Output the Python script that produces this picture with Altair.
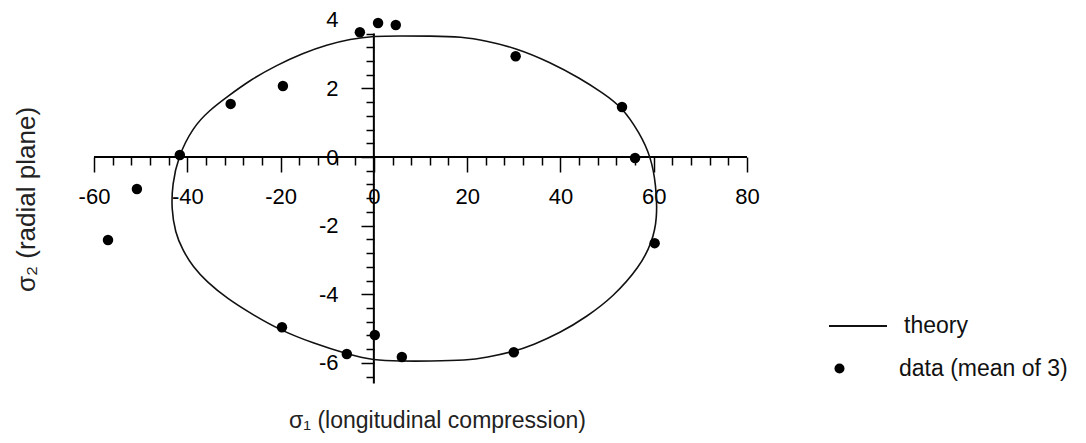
import altair as alt
import pandas as pd

# ---- theory curve, traced around the closed curve ----
THEORY_X = [-42.0, -38.8, -35.2, -31.5, -26.6, -20.8, -15.2, -10.1, -5.1, 0.0,
            5.6, 12.0, 18.9, 24.2, 30.7, 37.7, 44.2, 49.1, 53.2, 57.0,
            59.4, 60.5, 60.8, 59.6, 57.0, 51.3, 45.6, 39.9, 34.1, 29.8,
            24.2, 19.9, 12.0, 5.6, 0.0, -5.8, -13.0, -20.2, -25.9, -31.5,
            -35.8, -38.8, -41.0, -42.6, -43.4, -43.2]
THEORY_Y = [0.0, 0.87, 1.37, 1.75, 2.24, 2.68, 3.03, 3.27, 3.44, 3.53,
            3.53, 3.53, 3.51, 3.38, 3.17, 2.77, 2.3, 1.87, 1.46, 0.7,
            0.0, -0.8, -1.8, -2.5, -3.2, -4.08, -4.66, -5.13, -5.48, -5.68,
            -5.84, -5.93, -5.95, -5.95, -5.93, -5.74, -5.43, -5.04, -4.6, -4.12,
            -3.64, -3.2, -2.71, -2.2, -1.5, -0.8]

# ---- measured data (mean of 3) ----
DATA_X = [-3.0, 0.9, 4.7, -19.5, -30.7, -41.6, -50.8, 30.4, 53.2, 56.0,
          -57.0, -19.7, 0.2, -5.8, 6.0, 60.2, 30.0]
DATA_Y = [3.64, 3.91, 3.85, 2.07, 1.55, 0.06, -0.93, 2.94, 1.46, -0.03,
          -2.42, -4.96, -5.19, -5.74, -5.83, -2.51, -5.69]

# ---- axes ----
X_TICKS = list(range(-60, 81, 4))
Y_TICKS = [round(-6.4 + 0.4 * i, 1) for i in range(26)] + [4.0]
X_AXIS_SPAN = [-60, 80]
Y_AXIS_SPAN = [-6.6, 3.6]
LINE_LABEL = "theory"
POINT_LABEL = "data (mean of 3)"

FONT = "Liberation Sans"

theory = pd.DataFrame({"x": THEORY_X, "y": THEORY_Y,
                       "i": list(range(len(THEORY_X))),
                       "curve": [LINE_LABEL] * len(THEORY_X)})
data = pd.DataFrame({"x": DATA_X, "y": DATA_Y, "series": [POINT_LABEL] * len(DATA_X)})
xline = pd.DataFrame({"x": [X_AXIS_SPAN[0]], "x2": [X_AXIS_SPAN[1]], "y": [0.0]})
yline = pd.DataFrame({"y": [Y_AXIS_SPAN[0]], "y2": [Y_AXIS_SPAN[1]], "x": [0.0]})

xscale = alt.Scale(domain=[-60, 80], nice=False, zero=False)
yscale = alt.Scale(domain=[-7.2, 4.2], nice=False, zero=False)

major_x = "datum.value % 20 == 0"
major_y = "abs(datum.value/2 - round(datum.value/2)) < 0.01"

xaxis = alt.Axis(
    values=X_TICKS, domain=False, grid=False, offset=-247,
    labelExpr=f"{major_x} ? toString(datum.value) : ''",
    tickSize={"condition": {"test": major_x, "value": 15}, "value": 8},
    tickColor="black", tickWidth=1.5,
    labelFont=FONT, labelFontSize=22, labelColor="black", labelPadding=14,
    labelOverlap=False, labelFlush=False,
    title="σ₁ (longitudinal compression)", titleFont=FONT, titleFontSize=23,
    titleFontWeight="normal", titleColor="#222222",
    titleX=343, titleY=263, titleBaseline="middle", titleAlign="center",
)
yaxis = alt.Axis(
    values=Y_TICKS, domain=False, grid=False, offset=-280,
    labelExpr=f"{major_y} ? toString(round(datum.value)) : ''",
    tickSize={"condition": {"test": major_y, "value": 13}, "value": 8},
    tickColor={"condition": {"test": "datum.value > 3.9", "value": "transparent"}, "value": "black"},
    tickWidth=1.5,
    labelFont=FONT, labelFontSize=22, labelColor="black", labelPadding=23,
    labelOverlap=False, labelFlush=False,
    title="σ₂ (radial plane)", titleFont=FONT, titleFontSize=26,
    titleFontWeight="normal", titleColor="#222222",
    titleX=-348, titleY=186, titleBaseline="middle", titleAlign="center", titleAngle=270,
)

X = alt.X("x:Q", scale=xscale, axis=xaxis)
Y = alt.Y("y:Q", scale=yscale, axis=yaxis)

line_legend = alt.Legend(
    title=None, orient="none", legendX=734, legendY=283, padding=0,
    labelFont=FONT, labelFontSize=23, labelColor="#111111", labelOffset=16,
    labelLimit=400, symbolType="stroke", symbolSize=3364,
    symbolStrokeWidth=1.8, symbolStrokeColor="#111111",
)
point_legend = alt.Legend(
    title=None, orient="none", legendX=734, legendY=344, padding=0,
    labelFont=FONT, labelFontSize=23, labelColor="#111111", labelOffset=48,
    labelLimit=400, symbolType="circle", symbolSize=100,
    symbolFillColor="black", symbolStrokeColor="black",
)

curve = alt.Chart(theory).mark_line(
    interpolate="basis-closed", strokeWidth=1.6
).encode(
    x=X, y=Y, order="i:Q",
    color=alt.Color("curve:N", scale=alt.Scale(domain=[LINE_LABEL], range=["#111111"]),
                    legend=line_legend),
)

x_rule = alt.Chart(xline).mark_rule(color="black", strokeWidth=2).encode(
    x=X, x2="x2:Q", y=Y
)
y_rule = alt.Chart(yline).mark_rule(color="black", strokeWidth=2).encode(
    y=Y, y2="y2:Q", x=X
)

points = alt.Chart(data).mark_point(
    filled=True, color="black", opacity=1, size=110
).encode(
    x=X, y=Y,
    shape=alt.Shape("series:N", scale=alt.Scale(domain=[POINT_LABEL], range=["circle"]),
                    legend=point_legend),
)

chart = alt.layer(x_rule, y_rule, curve, points).properties(
    width=653, height=391,
    autosize=alt.AutoSizeParams(type="none"),
    padding={"left": 86, "top": 5, "right": 331, "bottom": 32},
    background="white",
).configure_view(stroke=None)

chart.save("out.html", embed_options={"renderer": "svg", "actions": False})
